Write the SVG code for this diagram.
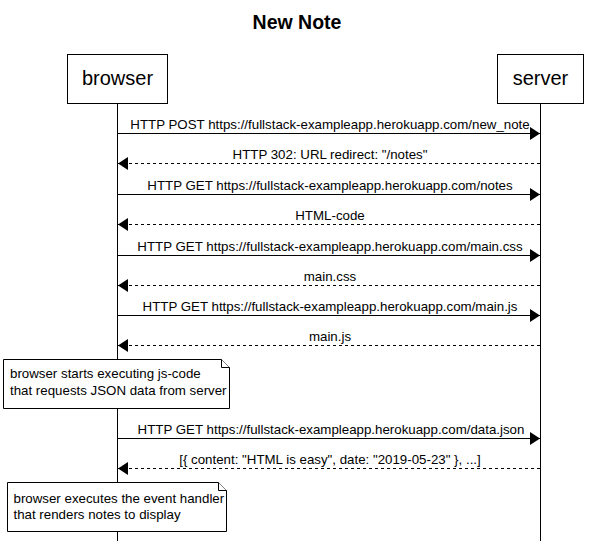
<svg xmlns="http://www.w3.org/2000/svg" width="604" height="541" viewBox="0 0 604 541">
<style>
text{font-family:"Liberation Sans",Arial,sans-serif;fill:#000}
.title{font-size:19.5px;font-weight:bold;text-anchor:middle}
.actor{fill:#fff;stroke:#000;stroke-width:1}
.actor-text{font-size:20px;text-anchor:middle}
.life{stroke:#000;stroke-width:1}
.msg{stroke:#000;stroke-width:1;fill:none;marker-end:url(#arrow)}
.dash{stroke-dasharray:3,3}
.lbl{font-size:13.3px;text-anchor:middle}
.note{fill:#fff;stroke:#000;stroke-width:1}
.note-text{font-size:13.3px}
</style>
<defs>
<marker id="arrow" markerUnits="userSpaceOnUse" markerWidth="10" markerHeight="13" refX="10" refY="6.5" orient="auto" viewBox="0 0 10 13">
<path d="M0,0 L10,6.5 L0,13 z" fill="#000"/>
</marker>
</defs>
<rect width="604" height="541" fill="#fff"/>
<text class="title" x="297" y="29">New Note</text>
<g id="lifelines">
<line class="life" x1="117.5" y1="104" x2="117.5" y2="541"/>
<line class="life" x1="540.5" y1="104" x2="540.5" y2="541"/>
</g>
<g id="browser">
<rect class="actor" x="67.5" y="54.5" width="100" height="49"/>
<text class="actor-text" x="117.5" y="85">browser</text>
</g>
<g id="server">
<rect class="actor" x="497.5" y="54.5" width="86" height="49"/>
<text class="actor-text" x="540.5" y="85">server</text>
</g>
<g id="connectors">
<line class="msg" x1="118" y1="133.5" x2="540" y2="133.5"/>
<text class="lbl" x="330" y="129">HTTP POST https://fullstack-exampleapp.herokuapp.com/new_note</text>
<line class="msg dash" x1="540" y1="163.5" x2="118" y2="163.5"/>
<text class="lbl" x="330" y="159">HTTP 302: URL redirect: "/notes"</text>
<line class="msg" x1="118" y1="194.5" x2="540" y2="194.5"/>
<text class="lbl" x="330" y="190">HTTP GET https://fullstack-exampleapp.herokuapp.com/notes</text>
<line class="msg dash" x1="540" y1="224.5" x2="118" y2="224.5"/>
<text class="lbl" x="330" y="220">HTML-code</text>
<line class="msg" x1="118" y1="255.5" x2="540" y2="255.5"/>
<text class="lbl" x="330" y="251">HTTP GET https://fullstack-exampleapp.herokuapp.com/main.css</text>
<line class="msg dash" x1="540" y1="285.5" x2="118" y2="285.5"/>
<text class="lbl" x="330" y="281">main.css</text>
<line class="msg" x1="118" y1="315.5" x2="540" y2="315.5"/>
<text class="lbl" x="330" y="311">HTTP GET https://fullstack-exampleapp.herokuapp.com/main.js</text>
<line class="msg dash" x1="540" y1="345.5" x2="118" y2="345.5"/>
<text class="lbl" x="330" y="341">main.js</text>
<line class="msg" x1="118" y1="438.5" x2="540" y2="438.5"/>
<text class="lbl" x="331" y="434">HTTP GET https://fullstack-exampleapp.herokuapp.com/data.json</text>
<line class="msg dash" x1="540" y1="468.5" x2="118" y2="468.5"/>
<text class="lbl" x="330" y="464">[{ content: "HTML is easy", date: "2019-05-23" }, ...]</text>
</g>
<g id="note1">
<path class="note" d="M3.5,359.5 H221.5 L229.5,367.5 V408.5 H3.5 Z"/>
<path class="note" d="M221.5,359.5 V367.5 H229.5" fill="none"/>
<text class="note-text" x="10" y="378">browser starts executing js-code</text>
<text class="note-text" x="10" y="395">that requests JSON data from server</text>
</g>
<g id="note2">
<path class="note" d="M7.5,482.5 H218.5 L226.5,490.5 V531.5 H7.5 Z"/>
<path class="note" d="M218.5,482.5 V490.5 H226.5" fill="none"/>
<text class="note-text" x="13.5" y="503">browser executes the event handler</text>
<text class="note-text" x="13.5" y="519">that renders notes to display</text>
</g>
</svg>
